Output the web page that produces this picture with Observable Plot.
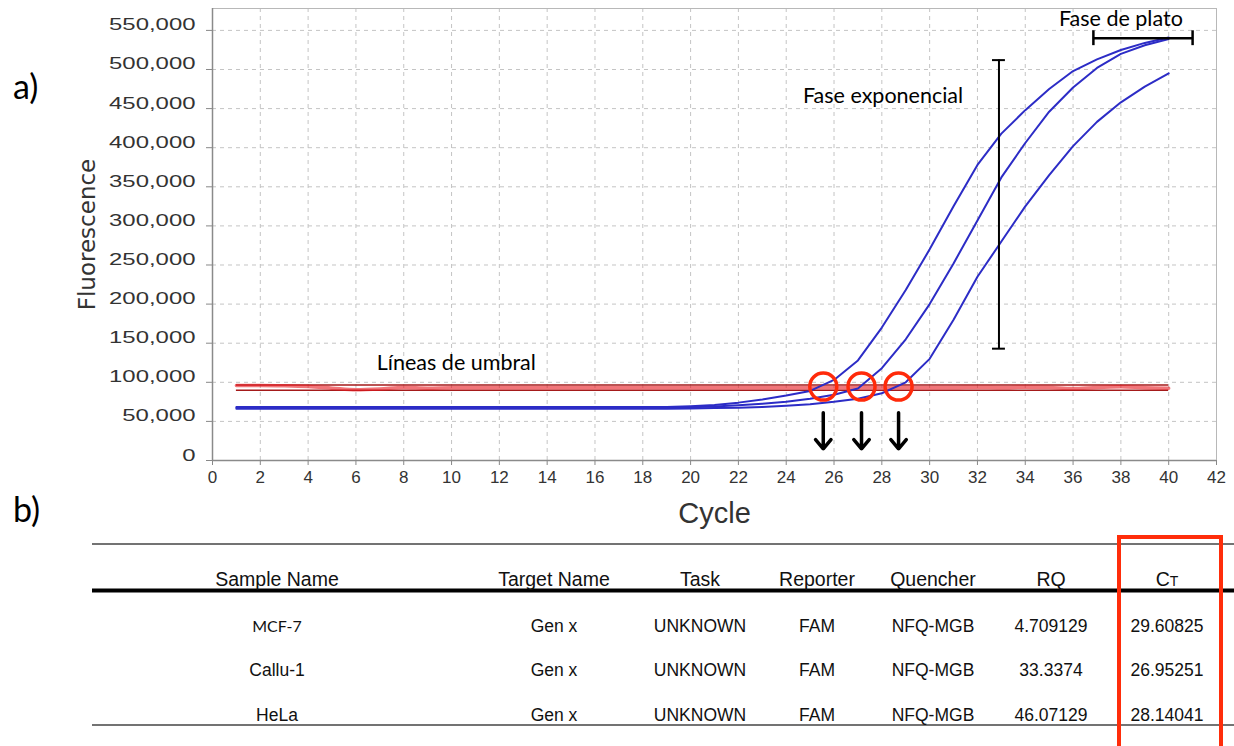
<!DOCTYPE html>
<html><head><meta charset="utf-8">
<script src="https://cdn.jsdelivr.net/npm/d3@7"></script>
<script src="https://cdn.jsdelivr.net/npm/@observablehq/plot@0.6"></script>
<style>
body{margin:0;background:#fff;}
#root{position:relative;width:1234px;height:746px;overflow:hidden;background:#fff;}
#root svg{position:absolute;left:0;top:0;}
</style></head><body><div id="root"></div>
<script>
// ---------- data ----------
const cycles = [1,2,3,4,5,6,7,8,9,10,11,12,13,14,15,16,17,18,19,20,21,22,23,24,25,26,27,28,29,30,31,32,33,34,35,36,37,38,39,40];
const calluValues = [68500,68500,68500,68500,68500,68500,68500,68500,68500,68500,68500,68500,68500,68500,68500,68500,68500,68500,68500,
  69500,71000,74000,78000,83000,89000,103000,128000,170000,218000,270000,325000,378000,418000,448000,475000,498000,513000,525000,534000,541000];
const helaValues = [67300,67300,67300,67300,67300,67300,67300,67300,67300,67300,67300,67300,67300,67300,67300,67300,67300,67300,67300,
  68000,69000,70500,72500,75000,79000,84000,92000,118000,155000,200000,252000,307000,362000,406000,446000,477000,502000,520000,531000,539000];
const mcfValues = [66200,66200,66200,66200,66200,66200,66200,66200,66200,66200,66200,66200,66200,66200,66200,66200,66200,66200,66200,
  66500,67000,67500,68500,70000,72000,75000,79000,86000,100000,130000,180000,235000,280000,325000,365000,402000,433000,458000,478000,495000];
const redValues = [96000,96000,95500,94500,92500,90500,91500,93500,92500,93000,93000,93000,93000,93000,93000,93000,93000,93000,93000,93000,
  93000,93000,93000,93000,93000,93000,93000,93000,93000,93000,93000,93500,93000,93800,93200,92000,93500,94200,93000,92500];
const thresholds = [96500, 89800];
const ctCycles = [25.55, 27.15, 28.7];
const ctLevel = 94500;
const arrowFrom = 61000, arrowTo = 15000;
const expBar = {x: 32.9, y1: 143000, y2: 512000, half: 0.27};
const plateauBar = {y: 540000, x1: 36.85, x2: 41.0, half: 9500};
const annotations = [
  {x: 38.0, y: 564000, text: "Fase de plato"},
  {x: 28.05, y: 466000, text: "Fase exponencial"},
  {x: 10.2, y: 125000, text: "Líneas de umbral"}
];
const xTicks = [0,2,4,6,8,10,12,14,16,18,20,22,24,26,28,30,32,34,36,38,40,42];
const yTicks = [0,50000,100000,150000,200000,250000,300000,350000,400000,450000,500000,550000];
const xLabel = "Cycle", yLabel = "Fluorescence";

const tableColumns = ["Sample Name","Target Name","Task","Reporter","Quencher","RQ","CT"];
const sampleNames = ["MCF-7","Callu-1","HeLa"];
const targetNames = ["Gen x","Gen x","Gen x"];
const tasks = ["UNKNOWN","UNKNOWN","UNKNOWN"];
const reporters = ["FAM","FAM","FAM"];
const quenchers = ["NFQ-MGB","NFQ-MGB","NFQ-MGB"];
const rqValues = ["4.709129","33.3374","46.07129"];
const ctValues = ["29.60825","26.95251","28.14041"];

// ---------- build tidy ----------
const curves = [];
[["Callu-1", calluValues],["HeLa", helaValues],["MCF-7", mcfValues]].forEach(([s, vals]) =>
  cycles.forEach((c, i) => curves.push({sample: s, cycle: c, value: vals[i]})));
const red = cycles.map((c, i) => ({cycle: c, value: redValues[i]}));

const root = document.getElementById("root");
const sansFont = "'Liberation Sans', Arial, sans-serif";
const wideFont = "'DejaVu Sans', Verdana, sans-serif";
const narrowFont = "'Liberation Sans Narrow', 'Arial Narrow', 'Liberation Sans', Arial, sans-serif";
const annFont = "Lato, 'Open Sans', sans-serif";

const chart = Plot.plot({
  width: 1234, height: 540,
  marginLeft: 212, marginRight: 18, marginTop: 8, marginBottom: 80,
  x: {domain: [0, 42]},
  y: {domain: [0, 578000]},
  style: {fontFamily: sansFont, color: "#333", background: "transparent", overflow: "visible"},
  marks: [
    Plot.gridX(xTicks, {stroke: "#c4c4c4", strokeOpacity: 1, strokeDasharray: "4,4"}),
    Plot.gridY(yTicks, {stroke: "#c4c4c4", strokeOpacity: 1, strokeDasharray: "4,4"}),
    Plot.frame({stroke: "#b8b8b8"}),
    Plot.axisX(xTicks, {tickSize: 5, tickPadding: 5, fontSize: 17, fontFamily: narrowFont, stroke: "#888", label: null, tickFormat: d => String(d)}),
    Plot.axisY(yTicks, {tickSize: 6, tickPadding: 11, fontSize: 16.5, stroke: "#888", label: null, tickFormat: d3.format(",")}),
    Plot.ruleX([0], {stroke: "#8a8a8a", strokeWidth: 1.5}),
    Plot.ruleY([0], {stroke: "#8a8a8a", strokeWidth: 1.5}),
    Plot.text([yLabel], {frameAnchor: "left", dx: -125, rotate: -90, textAnchor: "middle", lineAnchor: "middle", fontSize: 23, fontFamily: wideFont, fill: "#333", text: d => d}),
    Plot.text([xLabel], {frameAnchor: "bottom", dy: 53, textAnchor: "middle", lineAnchor: "middle", fontSize: 29, fontFamily: narrowFont, fill: "#333", text: d => d}),
    // threshold lines
    Plot.ruleY(thresholds, {x1: cycles[0], x2: cycles[cycles.length - 1], stroke: "#a41a1a", strokeWidth: 1.5}),
    Plot.line(red, {x: "cycle", y: "value", stroke: "#e8191f", strokeWidth: 3.5, strokeOpacity: 0.6, curve: "monotone-x"}),
    // amplification curves
    Plot.line(curves, {x: "cycle", y: "value", z: "sample", stroke: "#2c2cc6", strokeWidth: 2}),
    // Ct markers
    Plot.dot(ctCycles, {x: d => d, y: () => ctLevel, r: 13.5, stroke: "#ff2a0a", strokeWidth: 3.5, fill: "none"}),
    Plot.arrow(ctCycles, {x1: d => d, x2: d => d, y1: () => arrowFrom, y2: () => arrowTo, stroke: "#000", strokeWidth: 3.5, headLength: 15, headAngle: 80}),
    // phase bars
    Plot.ruleX([expBar], {x: "x", y1: "y1", y2: "y2", stroke: "#000", strokeWidth: 2}),
    Plot.ruleY([expBar], {y: "y1", x1: d => d.x - d.half, x2: d => d.x + d.half, stroke: "#000", strokeWidth: 2}),
    Plot.ruleY([expBar], {y: "y2", x1: d => d.x - d.half, x2: d => d.x + d.half, stroke: "#000", strokeWidth: 2}),
    Plot.ruleY([plateauBar], {y: "y", x1: "x1", x2: "x2", stroke: "#000", strokeWidth: 2.5}),
    Plot.ruleX([plateauBar], {x: "x1", y1: d => d.y - d.half, y2: d => d.y + d.half, stroke: "#000", strokeWidth: 2.5}),
    Plot.ruleX([plateauBar], {x: "x2", y1: d => d.y - d.half, y2: d => d.y + d.half, stroke: "#000", strokeWidth: 2.5}),
    Plot.text(annotations, {x: "x", y: "y", text: "text", fontSize: 21.5, fontFamily: annFont, fill: "#000"})
  ]
});
root.appendChild(chart);

// stretch y tick labels horizontally as in the reference
d3.select(chart).selectAll('g[aria-label="y-axis tick label"] text').each(function() {
  const t = d3.select(this);
  const x = +t.attr("x") || 0, y = +t.attr("y") || 0;
  let tx = 0, ty = 0;
  const tr = t.attr("transform");
  if (tr) { const m = /translate\(\s*([-\d.e]+)[ ,]+([-\d.e]+)\s*\)/.exec(tr); if (m) { tx = +m[1]; ty = +m[2]; } }
  t.attr("x", null).attr("y", null).attr("transform", `translate(${tx + x},${ty + y}) scale(1.45,1)`);
});

// ---------- overlay: panel labels and table ----------
const ov = d3.select(root).append("svg").attr("width", 1234).attr("height", 746)
  .style("pointer-events", "none").style("font-family", sansFont);
ov.append("text").attr("x", 13).attr("y", 99).attr("font-family", annFont).attr("font-size", 34).text("a)");
ov.append("text").attr("x", 13).attr("y", 522).attr("font-family", annFont).attr("font-size", 34).text("b)");

const colX = [277, 554, 700, 817, 933, 1051, 1167];
ov.append("line").attr("x1", 92).attr("x2", 1234).attr("y1", 544).attr("y2", 544).attr("stroke", "#444").attr("stroke-width", 1.3);
ov.append("line").attr("x1", 92).attr("x2", 1234).attr("y1", 590.5).attr("y2", 590.5).attr("stroke", "#000").attr("stroke-width", 4);
ov.append("line").attr("x1", 92).attr("x2", 1234).attr("y1", 725).attr("y2", 725).attr("stroke", "#444").attr("stroke-width", 1.3);

tableColumns.forEach((c, i) => {
  const t = ov.append("text").attr("x", colX[i]).attr("y", 586).attr("text-anchor", "middle").attr("font-size", 19.5).attr("fill", "#111");
  if (c === "CT") { t.append("tspan").text("C"); t.append("tspan").attr("font-size", 14).text("T"); }
  else t.text(c);
});
const rows = sampleNames.map((s, i) => [s, targetNames[i], tasks[i], reporters[i], quenchers[i], rqValues[i], ctValues[i]]);
const rowY = [632, 676, 721];
rows.forEach((r, j) => r.forEach((v, i) => {
  ov.append("text").attr("x", colX[i]).attr("y", rowY[j]).attr("text-anchor", "middle")
    .attr("font-size", i === 0 && j === 0 ? 16 : 17.5).attr("fill", "#111")
    .attr("font-family", i === 0 && j === 0 ? annFont : null).text(v);
}));
ov.append("rect").attr("x", 1119).attr("y", 537).attr("width", 102).attr("height", 230)
  .attr("fill", "none").attr("stroke", "#ff2d0a").attr("stroke-width", 4);
</script></body></html>
